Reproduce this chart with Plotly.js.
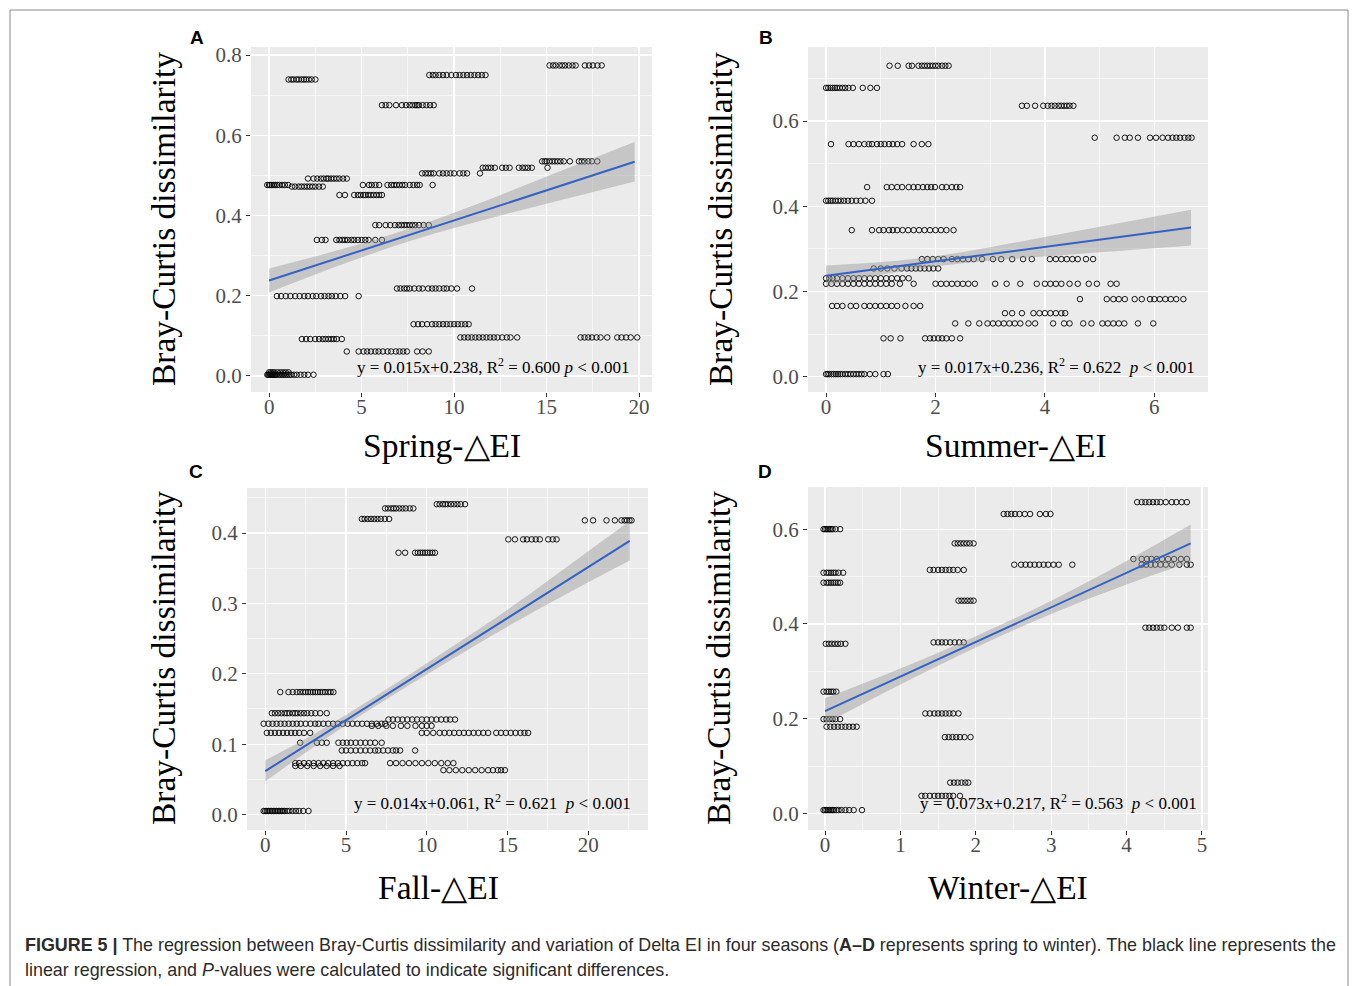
<!DOCTYPE html>
<html><head><meta charset="utf-8">
<script src="https://cdn.plot.ly/plotly-3.0.1.min.js"></script>
<style>html,body{margin:0;padding:0;background:#fff;}#chart{width:1358px;height:986px;}</style>
</head><body><div id="chart"></div>
<script>
// ---------- Panel A : Spring ----------
const springRowY = [0.739,0.750,0.774,0.675,0.476,0.472,0.492,0.451,0.476,0.505,0.519,0.535,0.376,0.339,0.199,0.218,0.129,0.096,0.096,0.092,0.061,0.003,0.009];
const springRowX = [
 [1.05,1.2,1.32,1.48,1.6,1.75,1.88,2.0,2.15,2.3,2.5],
 [8.66,8.85,9.0,9.2,9.4,9.6,9.85,10.1,10.3,10.5,10.7,10.9,11.1,11.3,11.5,11.7],
 [15.16,15.35,15.5,15.7,15.85,16.0,16.2,16.4,16.57,17.07,17.3,17.5,17.75,17.98],
 [6.1,6.3,6.5,6.86,7.18,7.4,7.6,7.75,7.9,8.0,8.1,8.3,8.5,8.7,8.9],
 [-0.1,0.0,0.05,0.15,0.25,0.35,0.45,0.55,0.7,0.85,1.03],
 [1.23,1.4,1.6,1.75,1.9,2.05,2.2,2.35,2.5,2.7,2.9],
 [2.1,2.4,2.6,2.8,2.95,3.1,3.2,3.35,3.5,3.65,3.8,4.0,4.2],
 [3.8,4.1,4.6,4.8,4.95,5.1,5.2,5.35,5.5,5.65,5.8,5.95,6.1],
 [5.07,5.4,5.55,5.75,5.95,6.4,6.6,6.75,6.9,7.05,7.2,7.35,7.6,7.8,8.0,8.14,8.84],
 [8.27,8.45,8.6,8.75,8.9,9.2,9.4,9.6,9.8,10.0,10.3,10.5,10.7,11.4],
 [11.55,11.7,11.85,12.0,12.2,12.6,12.8,13.0,13.5,13.7,13.85,14.0,14.2,15.05],
 [14.76,14.9,15.0,15.15,15.3,15.45,15.6,15.75,15.93,16.26,16.75,16.9,17.05,17.25,17.45,17.74],
 [5.74,5.95,6.3,6.55,6.8,7.0,7.15,7.3,7.45,7.6,7.75,7.9,8.1,8.35,8.63],
 [2.58,2.85,3.05,3.63,3.8,3.95,4.1,4.25,4.45,4.6,4.8,5.0,5.2,5.38,5.74,6.1],
 [0.42,0.65,0.9,1.15,1.41,1.65,1.9,2.1,2.35,2.55,2.8,3.0,3.21,3.39,3.6,3.85,4.11,4.84],
 [6.91,7.1,7.3,7.45,7.6,7.85,8.1,8.3,8.6,8.81,9.0,9.2,9.44,9.6,9.85,10.16,10.97],
 [7.81,8.05,8.27,8.54,8.81,9.0,9.2,9.4,9.6,9.8,10.0,10.2,10.4,10.6,10.79],
 [10.34,10.55,10.75,10.95,11.15,11.35,11.55,11.75,11.95,12.15,12.35,12.6,12.85,13.05,13.41],
 [16.84,17.05,17.25,17.45,17.7,17.92,18.28,18.82,19.05,19.3,19.55,19.9],
 [1.77,2.0,2.22,2.49,2.7,2.9,3.05,3.2,3.35,3.5,3.66,3.93],
 [4.2,4.84,5.1,5.3,5.5,5.74,5.92,6.15,6.4,6.6,6.85,7.05,7.25,7.45,8.0,8.3,8.63],
 [-0.1,-0.05,0.0,0.05,0.1,0.15,0.2,0.25,0.3,0.35,0.4,0.5,0.6,0.7,0.8,0.9,1.0,1.1,1.2,1.35,1.5,1.7,1.9,2.1,2.4],
 [0.0,0.1,0.2,0.3,0.45,0.6,0.75,0.9,1.05]
];
const springLineX = [0, 19.76];
const springLineY = [0.238, 0.534];
const springBandX = [0, 4, 8, 12, 16, 19.76];
const springBandHi = [0.268, 0.317, 0.374, 0.442, 0.515, 0.583];
const springBandLo = [0.208, 0.279, 0.342, 0.394, 0.441, 0.485];

// ---------- Panel B : Summer ----------
const summerRowY = [0.730,0.678,0.636,0.561,0.546,0.445,0.413,0.344,0.276,0.254,0.231,0.218,0.182,0.166,0.149,0.125,0.090,0.006];
const summerRowX = [
 [1.16,1.31,1.51,1.57,1.69,1.75,1.8,1.85,1.9,1.95,2.0,2.05,2.12,2.18,2.24],
 [0.0,0.04,0.08,0.12,0.16,0.2,0.25,0.3,0.35,0.41,0.49,0.67,0.81,0.93],
 [3.58,3.67,3.82,3.97,4.05,4.12,4.18,4.25,4.3,4.35,4.4,4.45,4.52],
 [4.91,5.31,5.46,5.55,5.7,5.92,6.03,6.15,6.25,6.33,6.4,6.47,6.55,6.62,6.68],
 [0.09,0.41,0.5,0.6,0.7,0.78,0.84,0.93,1.0,1.07,1.15,1.22,1.3,1.39,1.6,1.75,1.87],
 [0.75,1.11,1.2,1.3,1.39,1.51,1.6,1.68,1.77,1.85,1.92,1.99,2.12,2.2,2.3,2.38,2.45],
 [0,0.04,0.08,0.12,0.17,0.22,0.27,0.33,0.4,0.47,0.55,0.63,0.72,0.84],
 [0.47,0.84,0.97,1.05,1.15,1.22,1.3,1.4,1.5,1.6,1.7,1.8,1.9,2.0,2.1,2.2,2.33],
 [1.75,1.85,1.95,2.05,2.15,2.3,2.4,2.5,2.6,2.7,2.85,3.05,3.2,3.4,3.6,3.76,4.09,4.2,4.3,4.4,4.5,4.6,4.75,4.88],
 [0.87,1.0,1.12,1.25,1.38,1.48,1.56,1.64,1.72,1.8,1.88,1.96,2.05],
 [0,0.06,0.12,0.2,0.3,0.4,0.5,0.6,0.7,0.8,0.9,1.0,1.1,1.2,1.3,1.4,1.51],
 [0,0.1,0.2,0.3,0.4,0.5,0.6,0.7,0.8,0.9,1.0,1.1,1.2,1.35,1.6,2.0,2.1,2.2,2.3,2.4,2.5,2.6,2.72,3.09,3.3,3.55,3.85,4.0,4.1,4.2,4.3,4.45,4.6,4.8,4.95,5.2,5.31],
 [4.64,5.13,5.25,5.35,5.46,5.64,5.77,5.92,6.0,6.1,6.2,6.3,6.4,6.53],
 [0.11,0.2,0.3,0.45,0.55,0.7,0.8,0.9,1.0,1.1,1.2,1.3,1.45,1.6,1.72],
 [3.27,3.4,3.58,3.79,3.9,4.0,4.1,4.2,4.3,4.37],
 [2.36,2.6,2.8,2.95,3.05,3.15,3.25,3.35,3.45,3.55,3.7,3.82,4.15,4.35,4.45,4.7,4.85,5.05,5.15,5.25,5.35,5.45,5.7,5.98],
 [1.05,1.18,1.36,1.81,1.9,1.97,2.05,2.12,2.2,2.3,2.45],
 [0,0.03,0.06,0.1,0.14,0.18,0.22,0.26,0.3,0.35,0.4,0.45,0.5,0.55,0.6,0.65,0.7,0.8,0.9,1.05,1.13]
];
const summerLineX = [0, 6.67];
const summerLineY = [0.237, 0.350];
const summerBandX = [0, 1, 2, 3, 4, 5, 6.67];
const summerBandHi = [0.261, 0.269, 0.283, 0.304, 0.328, 0.352, 0.392];
const summerBandLo = [0.213, 0.239, 0.259, 0.272, 0.282, 0.292, 0.308];

// ---------- Panel C : Fall ----------
const fallRowY = [0.435,0.420,0.441,0.372,0.391,0.418,0.174,0.144,0.129,0.135,0.126,0.116,0.102,0.091,0.073,0.069,0.063,0.005];
const fallRowX = [
 [7.42,7.6,7.8,7.95,8.1,8.3,8.5,8.7,8.95,9.17],
 [5.98,6.15,6.35,6.55,6.75,6.95,7.15,7.4,7.67],
 [10.62,10.8,11.0,11.15,11.3,11.5,11.7,11.9,12.1,12.37],
 [8.25,8.66,9.28,9.45,9.6,9.75,9.9,10.05,10.2,10.35,10.51],
 [15.05,15.46,15.97,16.2,16.5,16.75,17.0,17.52,17.8,18.04],
 [19.79,20.3,21.13,21.65,22.06,22.25,22.4,22.55,22.68],
 [0.93,1.44,1.7,1.95,2.15,2.35,2.5,2.65,2.8,2.95,3.1,3.25,3.4,3.55,3.7,3.9,4.05,4.22],
 [0.41,0.6,0.8,1.0,1.2,1.35,1.5,1.7,1.85,2.0,2.2,2.4,2.6,2.85,3.1,3.4,3.81],
 [-0.1,0.2,0.45,0.7,0.95,1.2,1.45,1.7,1.95,2.2,2.5,2.8,3.09,3.3,3.6,3.9,4.2,4.5,4.8,5.1,5.4,5.7,6.0,6.3,6.6,6.9,7.2,7.42],
 [7.63,7.9,8.2,8.5,8.8,9.1,9.4,9.7,10.0,10.3,10.6,10.9,11.2,11.45,11.75],
 [6.6,7.0,7.5,7.9,8.4,8.8,9.3,9.7,10.0,10.3],
 [0.1,0.35,0.6,0.85,1.1,1.35,1.6,1.85,2.1,2.4,2.78,9.69,10.0,10.4,10.8,11.1,11.4,11.7,12.0,12.3,12.6,12.9,13.2,13.5,13.8,14.3,14.6,14.9,15.2,15.5,15.8,16.05,16.28],
 [2.16,3.2,3.5,3.81,4.53,4.8,5.05,5.3,5.6,5.9,6.2,6.5,6.8,7.21],
 [4.74,5.0,5.3,5.6,5.9,6.2,6.5,6.8,7.0,7.3,7.6,7.9,8.1,8.35,9.28],
 [1.86,2.1,2.4,2.7,3.0,3.3,3.6,3.9,4.2,4.5,4.8,5.1,5.4,5.7,6.0,6.18,7.73,8.1,8.5,8.9,9.3,9.7,10.1,10.5,10.9,11.3,11.65],
 [1.86,2.2,2.6,3.0,3.4,3.8,4.2,4.6],
 [11.03,11.4,11.8,12.2,12.6,13.0,13.4,13.8,14.1,14.4,14.6,14.84],
 [-0.1,0.0,0.1,0.2,0.3,0.4,0.5,0.6,0.7,0.8,0.9,1.0,1.1,1.2,1.35,1.5,1.7,1.9,2.1,2.35,2.68]
];
const fallLineX = [0, 22.57];
const fallLineY = [0.0616, 0.389];
const fallBandX = [0, 3, 6, 10, 15, 20, 22.57];
const fallBandHi = [0.077, 0.114, 0.156, 0.215, 0.291, 0.374, 0.417];
const fallBandLo = [0.047, 0.096, 0.142, 0.199, 0.267, 0.330, 0.361];

// ---------- Panel D : Winter ----------
const winterRowY = [0.657,0.632,0.600,0.570,0.537,0.525,0.525,0.514,0.508,0.487,0.449,0.392,0.361,0.358,0.257,0.199,0.183,0.211,0.161,0.065,0.037,0.007];
const winterRowX = [
 [4.14,4.2,4.25,4.3,4.35,4.4,4.45,4.52,4.6,4.66,4.73,4.8],
 [2.37,2.42,2.47,2.52,2.58,2.65,2.72,2.85,2.93,2.99],
 [-0.02,0.0,0.02,0.04,0.06,0.08,0.1,0.14,0.2],
 [1.72,1.76,1.8,1.84,1.88,1.92,1.97],
 [4.09,4.2,4.27,4.33,4.4,4.47,4.55,4.63,4.72,4.8],
 [2.51,2.6,2.66,2.72,2.78,2.84,2.9,2.96,3.03,3.1,3.28],
 [4.2,4.26,4.32,4.38,4.45,4.52,4.6,4.7,4.8,4.85],
 [1.39,1.44,1.5,1.55,1.6,1.65,1.7,1.76,1.84],
 [-0.02,0.02,0.05,0.08,0.11,0.14,0.18,0.24],
 [-0.02,0.02,0.05,0.08,0.11,0.14,0.17,0.2],
 [1.77,1.81,1.85,1.89,1.93,1.97],
 [4.25,4.3,4.35,4.4,4.45,4.5,4.6,4.68,4.8,4.85],
 [1.44,1.5,1.55,1.6,1.66,1.72,1.78,1.84],
 [0.01,0.05,0.09,0.13,0.17,0.21,0.27],
 [-0.02,0.02,0.05,0.08,0.11,0.15],
 [-0.02,0.02,0.06,0.1,0.14,0.2],
 [0.02,0.07,0.12,0.17,0.22,0.27,0.32,0.37,0.42],
 [1.33,1.39,1.45,1.5,1.55,1.6,1.65,1.7,1.77],
 [1.59,1.64,1.69,1.74,1.79,1.85,1.93],
 [1.66,1.71,1.76,1.81,1.86,1.9],
 [1.28,1.33,1.39,1.45,1.5,1.55,1.6,1.65,1.7,1.79],
 [-0.02,0.0,0.02,0.04,0.06,0.08,0.1,0.12,0.15,0.18,0.22,0.27,0.32,0.38,0.49]
];
const winterLineX = [0, 4.85];
const winterLineY = [0.216, 0.570];
const winterBandX = [0, 1, 2, 3, 4, 4.85];
const winterBandHi = [0.243, 0.306, 0.374, 0.449, 0.533, 0.610];
const winterBandLo = [0.189, 0.272, 0.350, 0.421, 0.483, 0.530];

const xTitles = ["Spring-\u25B3EI", "Summer-\u25B3EI", "Fall-\u25B3EI", "Winter-\u25B3EI"];
const eqTexts = [
 "y = 0.015x+0.238, R<sup>2</sup> = 0.600 <i>p</i> &lt; 0.001",
 "y = 0.017x+0.236, R<sup>2</sup> = 0.622  <i>p</i> &lt; 0.001",
 "y = 0.014x+0.061, R<sup>2</sup> = 0.621  <i>p</i> &lt; 0.001",
 "y = 0.073x+0.217, R<sup>2</sup> = 0.563  <i>p</i> &lt; 0.001"
];
const panelLetters = ["A", "B", "C", "D"];

// ---------- build ----------
const W = 1358, H = 986;
const px = v => v / W;
const py = v => 1 - v / H;
const SERIF = "Liberation Serif, 'Times New Roman', serif";
const SANS = "Liberation Sans, Arial, sans-serif";

const panels = [
 {rowsY: springRowY, rowsX: springRowX, lx: springLineX, ly: springLineY, bx: springBandX, bh: springBandHi, bl: springBandLo,
  dom: [251, 652, 47, 392], xr: [-0.98, 20.7], yr: [-0.04, 0.82], xd: 5, yd: 0.2,
  ytitle: [163, 219], xtitle: [442, 445], eq: [631, 366], letter: [197, 38]},
 {rowsY: summerRowY, rowsX: summerRowX, lx: summerLineX, ly: summerLineY, bx: summerBandX, bh: summerBandHi, bl: summerBandLo,
  dom: [808, 1208, 47, 392], xr: [-0.33, 6.98], yr: [-0.036, 0.774], xd: 2, yd: 0.2,
  ytitle: [720, 219], xtitle: [1016, 445], eq: [1197, 366], letter: [766, 38]},
 {rowsY: fallRowY, rowsX: fallRowX, lx: fallLineX, ly: fallLineY, bx: fallBandX, bh: fallBandHi, bl: fallBandLo,
  dom: [247, 648, 488, 830], xr: [-1.13, 23.7], yr: [-0.022, 0.464], xd: 5, yd: 0.1,
  ytitle: [163, 658], xtitle: [438, 887], eq: [633, 802], letter: [196, 472]},
 {rowsY: winterRowY, rowsX: winterRowX, lx: winterLineX, ly: winterLineY, bx: winterBandX, bh: winterBandHi, bl: winterBandLo,
  dom: [808, 1208, 487, 830], xr: [-0.226, 5.08], yr: [-0.035, 0.689], xd: 1, yd: 0.2,
  ytitle: [718, 658], xtitle: [1008, 887], eq: [1199, 802], letter: [765, 472]}
];

const traces = [];
const layout = {
 width: W, height: H, margin: {l: 0, r: 0, t: 0, b: 0},
 paper_bgcolor: "#ffffff", plot_bgcolor: "#EBEBEB", showlegend: false,
 annotations: [], shapes: []
};

panels.forEach((p, i) => {
 const n = i === 0 ? "" : String(i + 1);
 const xa = "x" + n, ya = "y" + n;
 const xs = [], ys = [];
 p.rowsY.forEach((yv, r) => { p.rowsX[r].forEach(xv => { xs.push(xv); ys.push(yv); }); });
 traces.push({x: xs, y: ys, xaxis: xa, yaxis: ya, type: "scatter", mode: "markers",
  marker: {symbol: "circle-open", size: 5.5, color: "#000", line: {width: 0.9, color: "#000"}}, hoverinfo: "skip"});
 traces.push({x: p.bx, y: p.bl, xaxis: xa, yaxis: ya, type: "scatter", mode: "lines",
  line: {width: 0, shape: "spline", smoothing: 1}, hoverinfo: "skip"});
 traces.push({x: p.bx, y: p.bh, xaxis: xa, yaxis: ya, type: "scatter", mode: "lines", fill: "tonexty",
  fillcolor: "rgba(153,153,153,0.45)", line: {width: 0, shape: "spline", smoothing: 1}, hoverinfo: "skip"});
 traces.push({x: p.lx, y: p.ly, xaxis: xa, yaxis: ya, type: "scatter", mode: "lines",
  line: {color: "#3462C4", width: 2}, hoverinfo: "skip"});

 const axCommon = {showline: false, zeroline: false, showgrid: true, gridcolor: "#ffffff", gridwidth: 1.3,
  ticks: "outside", ticklen: 4, tickwidth: 1, tickcolor: "#333333",
  tickfont: {family: SERIF, size: 21, color: "#4D4D4D"}};
 layout["xaxis" + n] = Object.assign({}, axCommon, {
  domain: [px(p.dom[0]), px(p.dom[1])], range: p.xr, anchor: ya, dtick: p.xd, tick0: 0, ticklabelstandoff: -8,
  minor: {dtick: p.xd / 2, showgrid: true, gridcolor: "#ffffff", gridwidth: 0.6, ticks: ""}});
 layout["yaxis" + n] = Object.assign({}, axCommon, {
  domain: [py(p.dom[3]), py(p.dom[2])], range: p.yr, anchor: xa, dtick: p.yd, tick0: 0, tickformat: ".1f",
  minor: {dtick: p.yd / 2, showgrid: true, gridcolor: "#ffffff", gridwidth: 0.6, ticks: ""}});

 layout.annotations.push({xref: "paper", yref: "paper", x: px(p.ytitle[0]), y: py(p.ytitle[1]),
  text: "Bray-Curtis dissimilarity", textangle: -90, showarrow: false, xanchor: "center", yanchor: "middle",
  font: {family: SERIF, size: 33.5, color: "#000"}});
 layout.annotations.push({xref: "paper", yref: "paper", x: px(p.xtitle[0]), y: py(p.xtitle[1]),
  text: xTitles[i], showarrow: false, xanchor: "center", yanchor: "middle",
  font: {family: SERIF, size: 33.5, color: "#000"}});
 layout.annotations.push({xref: "paper", yref: "paper", x: px(p.eq[0]), y: py(p.eq[1]),
  text: eqTexts[i], showarrow: false, xanchor: "right", yanchor: "middle",
  font: {family: SERIF, size: 17, color: "#000"}});
 layout.annotations.push({xref: "paper", yref: "paper", x: px(p.letter[0]), y: py(p.letter[1]),
  text: "<b>" + panelLetters[i] + "</b>", showarrow: false, xanchor: "center", yanchor: "middle",
  font: {family: SANS, size: 19, color: "#000"}});
});

layout.annotations.push({xref: "paper", yref: "paper", x: px(23), y: py(945), xanchor: "left", yanchor: "middle",
 showarrow: false, align: "left", font: {family: SANS, size: 17.9, color: "#2b2b2b"},
 text: "<b>FIGURE 5 |</b> The regression between Bray-Curtis dissimilarity and variation of Delta EI in four seasons (<b>A\u2013D</b> represents spring to winter). The black line represents the"});
layout.annotations.push({xref: "paper", yref: "paper", x: px(23), y: py(970), xanchor: "left", yanchor: "middle",
 showarrow: false, align: "left", font: {family: SANS, size: 17.9, color: "#2b2b2b"},
 text: "linear regression, and <i>P</i>-values were calculated to indicate significant differences."});

layout.shapes.push({type: "rect", xref: "paper", yref: "paper", x0: px(10), x1: px(1348), y0: py(1000), y1: py(10),
 line: {color: "#888", width: 1}, fillcolor: "rgba(0,0,0,0)", layer: "below"});

Plotly.newPlot("chart", traces, layout, {staticPlot: true, displayModeBar: false});
</script>
</body></html>
